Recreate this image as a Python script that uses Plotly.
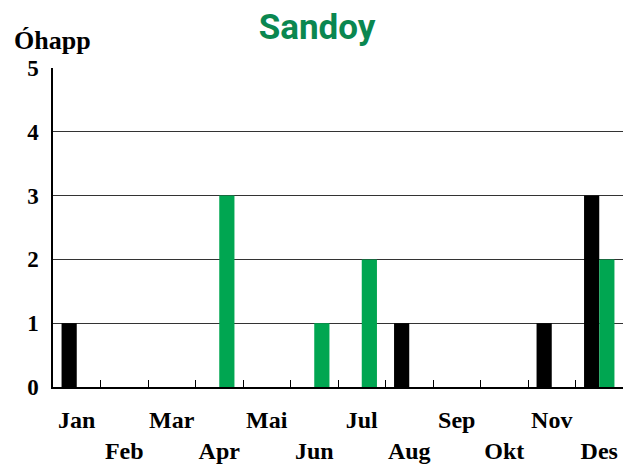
import plotly.graph_objects as go

months = ["Jan", "Feb", "Mar", "Apr", "Mai", "Jun", "Jul", "Aug", "Sep", "Okt", "Nov", "Des"]
black_values = [1, 0, 0, 0, 0, 0, 0, 1, 0, 0, 1, 3]
green_values = [0, 0, 0, 3, 0, 1, 2, 0, 0, 0, 0, 2]
y_ticks = [0, 1, 2, 3, 4, 5]

# even months drop to a second row of labels
tick_text = ["<b>" + m + "</b>" if i % 2 == 0 else "<br><b>" + m + "</b>" for i, m in enumerate(months)]
y_text = ["<b>%d</b>" % v for v in y_ticks]

fig = go.Figure()
fig.add_bar(x=months, y=black_values, marker=dict(color="#000000", line=dict(width=0)), name="A")
fig.add_bar(x=months, y=green_values, marker=dict(color="#00a651", line=dict(width=0)), name="B")

serif = "Liberation Serif, Times New Roman, serif"

fig.update_layout(
    width=634, height=468,
    margin=dict(l=53, r=11, t=68, b=81),
    paper_bgcolor="white", plot_bgcolor="white",
    barmode="group", bargap=0.36, bargroupgap=0,
    showlegend=False,
    title=dict(text="<b>Sandoy</b>", x=0.5, xref="container", xanchor="center",
               y=1 - 27 / 468, yref="container", yanchor="middle",
               font=dict(family="Roboto, sans-serif", size=35, color="#0a8750")),
)

# axis caption above the value axis
fig.add_annotation(text="<b>Óhapp</b>", xref="paper", yref="paper",
                   x=-41 / 570, y=1 + 28 / 319, xanchor="left", yanchor="middle",
                   showarrow=False, font=dict(family=serif, size=26, color="black"))

fig.update_xaxes(
    type="category", tickmode="array", tickvals=months, ticktext=tick_text,
    tickson="boundaries", ticks="inside", ticklen=7, tickwidth=1.2, tickcolor="black",
    showline=True, linecolor="black", linewidth=1.5, showgrid=False,
    ticklabelstandoff=10, tickangle=0, automargin=False,
    tickfont=dict(family=serif, size=24, color="black"),
)
fig.update_yaxes(
    range=[0, 5], tickmode="array", tickvals=y_ticks, ticktext=y_text,
    showgrid=True, gridcolor="#333333", gridwidth=1,
    showline=True, linecolor="black", linewidth=1.5,
    ticks="", ticklabelstandoff=8, automargin=False,
    tickfont=dict(family=serif, size=23, color="black"),
    zeroline=False,
)

fig.write_html("out.html")
